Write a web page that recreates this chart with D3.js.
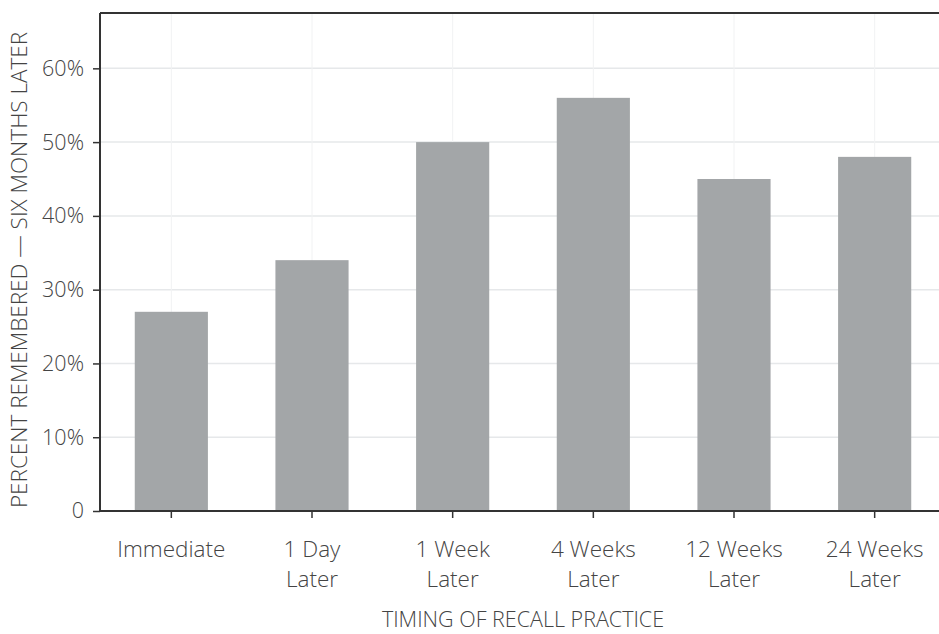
<!DOCTYPE html>
<html><head><meta charset="utf-8">
<script src="https://cdn.jsdelivr.net/npm/d3@7"></script>
<style>body{margin:0;background:#fff}svg{display:block}text{font-family:"Open Sans","Noto Sans",sans-serif;fill:#444;font-weight:300}</style>
</head><body><svg id="c" width="939" height="634"></svg>
<script>
const categories = [["Immediate"], ["1 Day","Later"], ["1 Week","Later"], ["4 Weeks","Later"], ["12 Weeks","Later"], ["24 Weeks","Later"]];
const values = [27, 34, 50, 56, 45, 48];
const yTicks = [0, 10, 20, 30, 40, 50, 60];
const yLabel = "PERCENT REMEMBERED — SIX MONTHS LATER";
const xLabel = "TIMING OF RECALL PRACTICE";

const svg = d3.select("#c");
const m = {l:100, t:13, r:0, b:123};
const W = 939, H = 634;
const keys = categories.map(c => c.join(" "));
const x = d3.scaleBand().domain(keys).range([m.l + 1, 945]).paddingInner(0.48).paddingOuter(0.24);
const y = d3.scaleLinear().domain([0, 67.5]).range([H - m.b, m.t]);

// gridlines
const g = svg.append("g");
g.selectAll("line.h").data(yTicks.filter(d => d > 0)).join("line")
  .attr("x1", m.l).attr("x2", W).attr("y1", d => y(d)).attr("y2", d => y(d))
  .attr("stroke", "#e6e8ea").attr("stroke-width", 1.5);
g.selectAll("line.v").data(keys).join("line")
  .attr("x1", d => x(d) + x.bandwidth()/2).attr("x2", d => x(d) + x.bandwidth()/2)
  .attr("y1", m.t).attr("y2", y(0))
  .attr("stroke", "#f1f2f3").attr("stroke-width", 1);

// bars
svg.append("g").selectAll("rect").data(values).join("rect")
  .attr("x", (d,i) => x(keys[i])).attr("width", x.bandwidth())
  .attr("y", d => y(d)).attr("height", d => y(0) - y(d))
  .attr("fill", "#a3a6a8");

// top frame line
svg.append("line").attr("x1", m.l).attr("x2", W).attr("y1", m.t).attr("y2", m.t)
  .attr("stroke", "#333").attr("stroke-width", 2);

// y axis
const ya = svg.append("g").attr("transform", `translate(${m.l},0)`)
  .call(d3.axisLeft(y).tickValues(yTicks).tickSize(7).tickPadding(9).tickFormat(d => d === 0 ? "0" : d + "%"));
ya.select(".domain").attr("d", `M0,${m.t}V${y(0)}`).attr("stroke", "#333").attr("stroke-width", 2);
ya.selectAll(".tick line").attr("stroke", "#333").attr("stroke-width", 1.5);
ya.selectAll(".tick text").attr("font-size", 21.5).attr("fill", "#444").style("font-family", null);

// x axis
const xa = svg.append("g").attr("transform", `translate(0,${y(0)})`)
  .call(d3.axisBottom(x).tickSize(7).tickFormat(""));
xa.select(".domain").attr("d", `M${m.l},0H${W}`).attr("stroke", "#333").attr("stroke-width", 2);
xa.selectAll(".tick line").attr("stroke", "#333").attr("stroke-width", 1.5);
xa.selectAll(".tick").each(function(d, i) {
  const t = d3.select(this).append("text").attr("text-anchor", "middle").attr("font-size", 22.5);
  categories[i].forEach((s, j) => t.append("tspan").attr("x", 0).attr("y", 46 + j * 30).text(s));
});

// axis titles
svg.append("text").attr("x", 523).attr("y", 627).attr("text-anchor", "middle").attr("font-size", 21.5).text(xLabel);
svg.append("text").attr("transform", `translate(27,${270}) rotate(-90)`).attr("text-anchor", "middle").attr("font-size", 22.5).text(yLabel);
</script></body></html>
